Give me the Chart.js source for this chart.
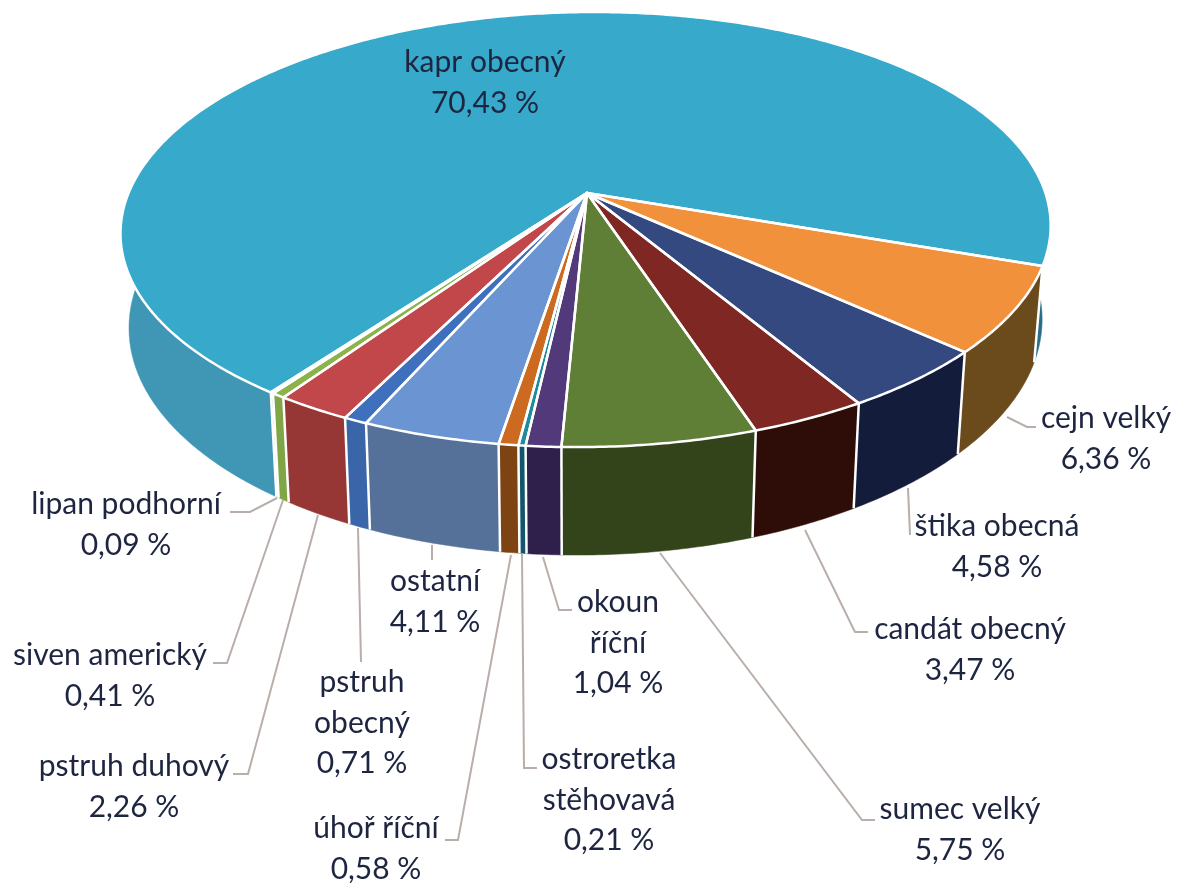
<!DOCTYPE html>
<html lang="cs">
<head>
<meta charset="utf-8">
<title>Druhy ryb</title>
<script src="https://cdn.jsdelivr.net/npm/chart.js@4"></script>
<style>
  html, body { margin: 0; background: #fff; }
  canvas { display: block; }
</style>
</head>
<body>
<canvas id="fishChart" width="1179" height="883"></canvas>
<script>
// data
const species = ['kapr obecný', 'cejn velký', 'štika obecná', 'candát obecný', 'sumec velký', 'okoun\nříční',
  'ostroretka\nstěhovavá', 'úhoř říční', 'ostatní', 'pstruh\nobecný', 'pstruh duhový', 'siven americký', 'lipan podhorní'];
const shares = [70.43, 6.36, 4.58, 3.47, 5.75, 1.04, 0.21, 0.58, 4.11, 0.71, 2.26, 0.41, 0.09];
const topColors = ['#37a9cb', '#f2913c', '#34497f', '#7f2823', '#5f7f37', '#51397a', '#1f8a9e', '#cc6a1f', '#6b94d2', '#3e70bd', '#c1474a', '#8cb24a', '#37a9cb'];
const wallColors = ['#3f96b5', '#6b4a1c', '#141c3b', '#2e0d08', '#33441b', '#2e1f4b', '#11566a', '#7d4313', '#557099', '#3a65a8', '#973735', '#7fa544', '#3f96b5'];

// where each label sits: centre x, first baseline
const labelPos = [[485, 72], [1106, 428], [997, 536], [970, 639], [960, 819], [618, 612],
  [609, 769], [376, 838], [435, 591], [362, 692], [134, 776], [110, 665], [126, 514]];
const leaders = [
  [[1007, 417], [1027, 427], [1036, 427]],
  [[908, 488], [910, 535]],
  [[805, 530], [855, 632], [868, 632]],
  [[660, 553], [862, 820], [875, 820]],
  [[543, 557], [559, 610], [572, 610]],
  [[522, 553], [524, 768], [537, 768]],
  [[511, 555], [458, 840], [445, 840]],
  [[432, 545], [432, 560]],
  [[358, 528], [361, 662]],
  [[318, 515], [248, 774], [233, 774]],
  [[283, 500], [227, 663], [213, 663]],
  [[277, 498], [250, 512], [230, 512]]
];

// perspective of the disc, u/v are on the unit circle
const persp = { cx: 587, c: -0.168, skew: -8.3, topK: 458.4, topA: 179, topB: 193, botK: 450, botA: 177, botB: 284.8 };

function topPoint(a) {
  const u = Math.cos(a), v = Math.sin(a), d = 1 + persp.c * v;
  return [persp.cx + (persp.topK * u + persp.skew * v) / d, (persp.topA * v + persp.topB) / d];
}
function botPoint(a) {
  const u = Math.cos(a), v = Math.sin(a), d = 1 + persp.c * v;
  return [persp.cx + (persp.botK * u + persp.skew * v) / d, (persp.botA * v + persp.botB) / d];
}
function arcPoints(fn, start, end) {
  const n = Math.max(2, Math.ceil((end - start) / 0.01));
  const pts = [];
  for (let i = 0; i <= n; i++) pts.push(fn(start + (end - start) * i / n));
  return pts;
}
function trace(ctx, pts) {
  ctx.beginPath();
  pts.forEach((p, i) => i ? ctx.lineTo(p[0], p[1]) : ctx.moveTo(p[0], p[1]));
}

// draws the arcs of the pie meta in perspective
const disc3d = {
  id: 'disc3d',
  beforeDatasetDraw(chart) {
    const ctx = chart.ctx;
    const arcs = chart.getDatasetMeta(0).data;
    ctx.save();
    ctx.lineJoin = 'round';

    // walls, the big one goes dark on its thin right end
    const bigWall = ctx.createLinearGradient(0, 0, 1179, 0);
    bigWall.addColorStop(0, wallColors[0]);
    bigWall.addColorStop(0.8, wallColors[0]);
    bigWall.addColorStop(0.86, '#2b6c88');
    bigWall.addColorStop(1, '#2b6c88');
    arcs.forEach((arc, i) => {
      const top = arcPoints(topPoint, arc.startAngle, arc.endAngle);
      const bot = arcPoints(botPoint, arc.startAngle, arc.endAngle).reverse();
      trace(ctx, top.concat(bot));
      ctx.closePath();
      ctx.fillStyle = i === 0 ? bigWall : wallColors[i];
      ctx.fill();
      ctx.strokeStyle = ctx.fillStyle;
      ctx.lineWidth = 0.5;
      ctx.stroke();
    });
    // white verticals between the visible walls
    ctx.strokeStyle = '#fff';
    ctx.lineWidth = 2.5;
    arcs.forEach(arc => {
      if (Math.sin(arc.startAngle) > 0.1) {
        trace(ctx, [topPoint(arc.startAngle), botPoint(arc.startAngle)]);
        ctx.stroke();
      }
    });

    // top faces
    const apex = [persp.cx, persp.topB];
    arcs.forEach((arc, i) => {
      trace(ctx, [apex].concat(arcPoints(topPoint, arc.startAngle, arc.endAngle)));
      ctx.closePath();
      ctx.fillStyle = topColors[i];
      ctx.fill();
    });
    arcs.forEach(arc => {
      trace(ctx, [apex].concat(arcPoints(topPoint, arc.startAngle, arc.endAngle)));
      ctx.closePath();
      ctx.strokeStyle = '#fff';
      ctx.lineWidth = 2.5;
      ctx.stroke();
    });
    ctx.restore();
    return false;
  },
  afterDatasetsDraw(chart) {
    const ctx = chart.ctx;
    ctx.save();
    ctx.strokeStyle = '#b9aeaa';
    ctx.lineWidth = 2;
    leaders.forEach(line => {
      trace(ctx, line);
      ctx.stroke();
    });
    ctx.font = '30px Lato';
    ctx.fillStyle = '#1e2540';
    ctx.textAlign = 'center';
    ctx.textBaseline = 'alphabetic';
    species.forEach((name, i) => {
      const lines = name.split('\n');
      lines.push(shares[i].toFixed(2).replace('.', ',') + ' %');
      lines.forEach((t, j) => ctx.fillText(t, labelPos[i][0], labelPos[i][1] + j * 40.5));
    });
    ctx.restore();
  }
};

new Chart(document.getElementById('fishChart'), {
  type: 'pie',
  data: {
    labels: species,
    datasets: [{ data: shares, backgroundColor: topColors, borderWidth: 0 }]
  },
  options: {
    responsive: false,
    animation: false,
    devicePixelRatio: 1,
    rotation: -144.5,
    plugins: { legend: { display: false }, tooltip: { enabled: false } }
  },
  plugins: [disc3d]
});
</script>
</body>
</html>
